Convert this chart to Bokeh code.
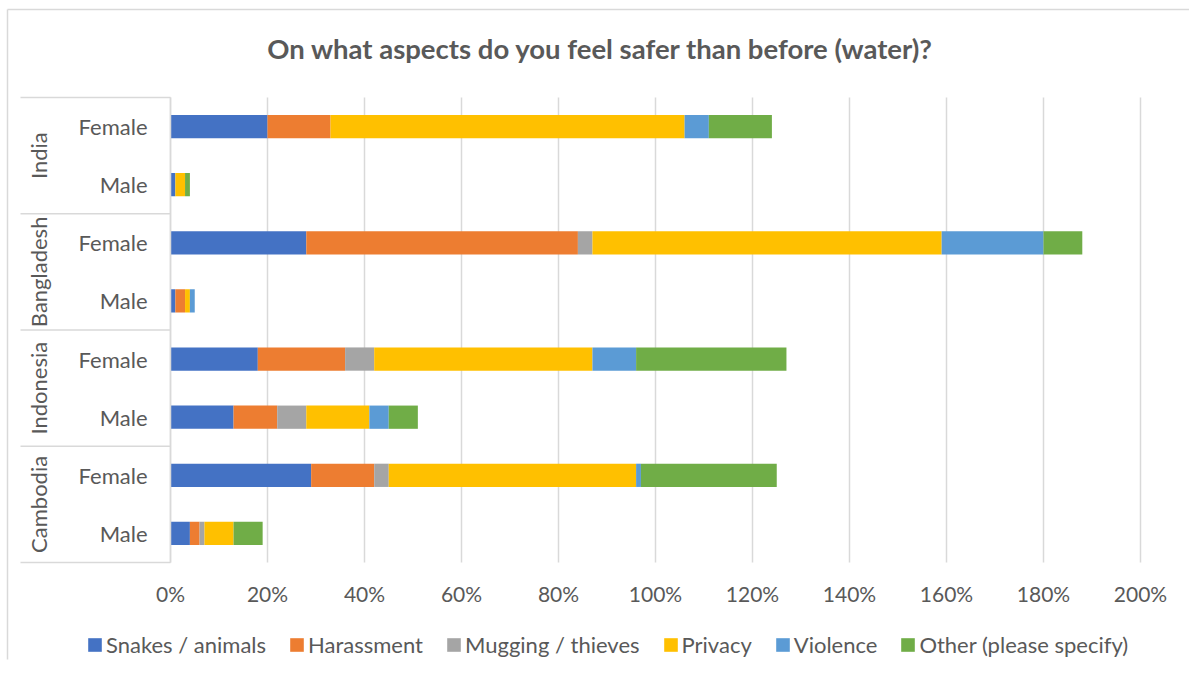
from math import pi

from bokeh.plotting import figure
from bokeh.core.properties import value
from bokeh.models import (ColumnDataSource, FactorRange, Range1d, SingleIntervalTicker,
                          Label, Grid)
from bokeh.embed import file_html
from bokeh.resources import INLINE

title = "On what aspects do you feel safer than before (water)?"

countries = ["India", "Bangladesh", "Indonesia", "Cambodia"]
genders = ["Female", "Male"]

series = ["Snakes / animals", "Harassment", "Mugging / thieves",
          "Privacy", "Violence", "Other (please specify)"]
colors = ["#4472C4", "#ED7D31", "#A5A5A5", "#FFC000", "#5B9BD5", "#70AD47"]

# share of respondents (%), rows top to bottom:
# India F, India M, Bangladesh F, Bangladesh M, Indonesia F, Indonesia M, Cambodia F, Cambodia M
snakes     = [20, 1, 28, 1, 18, 13, 29, 4]
harassment = [13, 0, 56, 2, 18,  9, 13, 2]
mugging    = [ 0, 0,  3, 0,  6,  6,  3, 1]
privacy    = [73, 2, 72, 1, 45, 13, 51, 6]
violence   = [ 5, 0, 21, 1,  9,  4,  1, 0]
other      = [13, 1,  8, 0, 31,  6, 28, 6]

ticks = [0, 20, 40, 60, 80, 100, 120, 140, 160, 180, 200]
tick_labels = ["0%", "20%", "40%", "60%", "80%", "100%",
               "120%", "140%", "160%", "180%", "200%"]

TEXT = "#595959"
GRID = "#d9d9d9"
FONT = "Lato"
LABEL_SIZE = "22px"

# page geometry (pixels)
W, H = 1189, 680
PLOT_L, PLOT_R = 170, 1140      # value axis 0 .. max
PLOT_T, PLOT_B = 97, 562        # category band
FRAME_H = PLOT_T + PLOT_B       # frame symmetric about the category band

x_lo, x_hi = ticks[0], ticks[-1]
px_per_unit = (PLOT_R - PLOT_L) / (x_hi - x_lo)


def px_to_x(px):
    return x_lo + (px - PLOT_L) / px_per_unit


rows = [(c, g) for c in countries for g in genders]
n_rows = len(rows)
row_px = (PLOT_B - PLOT_T) / n_rows


def px_to_y(px):
    # synthetic coordinate of a pixel row (0 at the bottom of the category band)
    return (PLOT_B - px) / row_px


source = ColumnDataSource(dict(
    row=rows,
    **{name: vals for name, vals in zip(series, [snakes, harassment, mugging,
                                                 privacy, violence, other])}
))

# first factor sits at the bottom; each row spans one unit
factors = list(reversed(rows))
y_range = FactorRange(factors=factors, factor_padding=0, group_padding=0,
                      range_padding=FRAME_H / (PLOT_B - PLOT_T) - 1,
                      range_padding_units="percent")

p = figure(width=W, height=H, x_range=Range1d(px_to_x(0), px_to_x(W)), y_range=y_range,
           x_axis_location=None, y_axis_location=None,
           output_backend="svg", toolbar_location=None,
           min_border_left=0, min_border_right=0,
           min_border_top=0, min_border_bottom=H - FRAME_H)
p.outline_line_color = None
p.background_fill_color = "white"
p.border_fill_color = "white"
p.title = None

# only the value gridlines, limited to the plot area
p.center = [r for r in p.center if not isinstance(r, Grid)]
p.add_layout(Grid(dimension=0, ticker=SingleIntervalTicker(interval=ticks[1] - ticks[0]),
                  bounds=(x_lo, x_hi), cross_bounds=(0, n_rows),
                  grid_line_color=GRID, grid_line_width=1.5))

p.hbar_stack(series, y="row", height=0.4, color=colors, line_color=None,
             source=source, legend_label=series)

# value tick labels
p.text(x=ticks, y=[px_to_y(593)] * len(ticks), text=tick_labels,
       text_align="center", text_baseline="middle",
       text_font=value(FONT), text_font_size=value("21px"), text_color=TEXT)

# chart border (left and top edges; the others fall outside the page)
p.segment(x0=[px_to_x(7), px_to_x(7)], x1=[px_to_x(7), px_to_x(W)],
          y0=[px_to_y(H), px_to_y(9)], y1=[px_to_y(9), px_to_y(9)],
          line_color=GRID, line_width=1.5)

# category axis: group separators, axis line, country and gender labels
edges = list(range(0, n_rows + 1, len(genders)))
p.segment(x0=[px_to_x(20)] * len(edges), x1=[x_lo] * len(edges), y0=edges, y1=edges,
          line_color=GRID, line_width=1.5)
p.segment(x0=[x_lo], x1=[x_lo], y0=[0], y1=[n_rows], line_color=GRID, line_width=1.5)

p.text(x=[px_to_x(38)] * len(countries), y=countries, text=countries, angle=pi / 2,
       text_align="center", text_baseline="middle",
       text_font=value(FONT), text_font_size=value(LABEL_SIZE), text_color=TEXT)
p.text(x=[px_to_x(147)] * n_rows, y=rows, text=[g for _, g in rows],
       text_align="right", text_baseline="middle",
       text_font=value(FONT), text_font_size=value(LABEL_SIZE), text_color=TEXT)

p.add_layout(Label(x=600, y=FRAME_H - 48, x_units="screen", y_units="screen", text=title,
                   text_align="center", text_baseline="middle",
                   text_font=FONT, text_font_size="27.5px", text_font_style="bold",
                   text_color=TEXT))

leg = p.legend[0]
leg.orientation = "horizontal"
leg.location = (86, FRAME_H - 658)
leg.padding = 0
leg.margin = 0
leg.spacing = 22
leg.glyph_width = 17
leg.glyph_height = 17
leg.label_standoff = 3
leg.border_line_color = None
leg.background_fill_alpha = 0
leg.label_text_font = FONT
leg.label_text_font_size = LABEL_SIZE
leg.label_text_color = TEXT

open("out.html", "w").write(file_html(p, INLINE))
